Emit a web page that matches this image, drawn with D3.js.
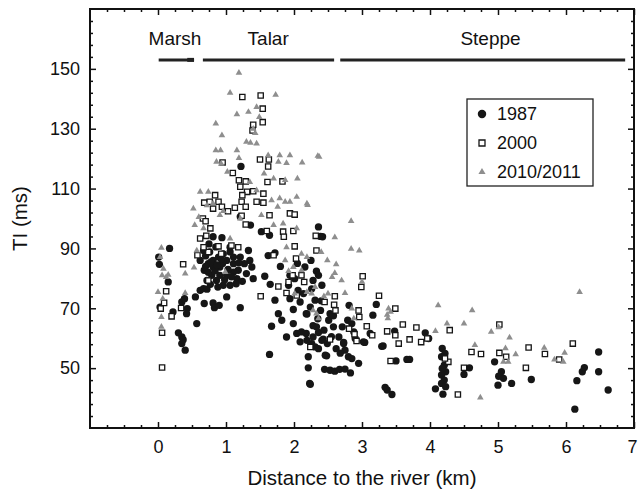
<!DOCTYPE html>
<html>
<head>
<meta charset="utf-8">
<script src="https://cdn.jsdelivr.net/npm/d3@7"></script>
<style>
  body { margin: 0; background: #fff; }
  svg { display: block; font-family: "Liberation Sans", Arial, sans-serif; }
  .tick line { stroke: #111; stroke-width: 1.5; }
</style>
</head>
<body>
<div class="chartContainer"></div>
<script>
// distance to river (km), TI (ms)
const pts1987 = [
  [1.22,117.4],[1.21,100.6],[1.36,97.8],[1.52,95.6],[1.64,94.4],[0.81,93.9],[0.94,93.6],[2.36,97.2],[2.42,93.9],[2.39,94],
  [0.01,87.1],[0.02,84.7],[0.17,90],[0.15,78.8],[0.03,70.4],[0.22,68.8],[0.30,61.8],[0.35,60.4],[0.35,58.2],[0.40,56],[0.37,59.5],
  [0.35,72.1],[0.39,73.2],[0.43,69.9],[0.42,68.2],[0.57,64.9],[0.55,73.8],[0.62,76],[0.68,71.6],[0.81,71.8],[0.83,70.2],[0.90,71],
  [1.01,73.8],[1.21,70.2],[0.67,76.6],[0.72,76.4],
  [0.62,86],[0.68,82.7],[0.74,84.9],[0.81,86],[0.89,87.1],[0.96,88.2],[1.06,88.8],[1.11,84.9],[1.18,82.7],[1.21,87.1],[1.33,89.3],
  [1.35,86],[1.38,83.8],[1.40,79.9],[1.30,81.6],[1.16,79.9],[1.15,78.2],[1.06,77.7],[0.96,77.7],[0.86,79.3],[0.79,81],[0.72,79.3],
  [0.91,81],[1.01,81],[1.11,82.1],[0.81,83.8],[0.91,83.8],[1.01,86],[1.06,90.4],[0.67,89.3],[0.76,88.8],[1.27,84.9],[1.11,87.1],
  [0.88,77.1],[0.75,91.5],[0.85,90.5],[0.70,87.5],[0.78,85.5],[0.95,85],[1.03,83],
  [0.74,82],[0.84,82.5],[0.98,79.5],[1.08,80.5],[0.77,78],[1.24,79],[0.93,86.5],[0.87,84.5],[1.19,85.2],[0.70,84],
  [1.64,54.6],[1.67,64],[1.57,80.7],[1.65,78],[1.72,72.7],[1.77,68.2],[1.82,66],[1.62,87.6],[1.89,60.4],[1.99,64.9],[1.94,73.2],
  [1.99,69.6],[1.92,77.7],[2.04,61.6],[2.09,58.8],[2.11,62.1],[2.18,61.6],[2.21,53.8],[2.21,50.1],[2.23,44.9],[2.19,59.3],[2.26,58.2],
  [2.28,60.4],[2.31,57.1],[2.33,63.8],[2.18,68.2],[2.24,70.4],[2.31,72.7],[2.33,82.4],[2.28,79.3],[1.94,81],[2.01,79.9],[2.06,76],
  [2.14,74.9],[2.09,72.1],[2.16,83.8],[1.80,84],[1.72,88.5],[2.25,86],[2.05,85],
  [2.19,68.1],[2.28,64.2],[2.36,61.9],[2.43,59.7],[2.35,66.5],[2.26,76.5],[2.40,72.5],[2.48,54.1],[2.24,44.6],[2.36,56.5],
  [2.36,81],[2.41,77.7],[2.39,69.3],[2.44,62.7],[2.41,59.3],[2.49,58.2],[2.51,66],[2.53,68.2],[2.58,63.8],[2.46,54.3],[2.66,60.4],
  [2.71,63.8],[2.73,58.2],[2.75,56],[2.80,53.8],[2.85,53.2],[2.95,51.6],[2.45,49.6],[2.53,49.3],[2.60,49],[2.67,49.6],[2.75,49.7],
  [2.83,48.4],[2.81,71],[2.79,66],[2.85,64.9],[2.88,62.1],[3.02,58.8],[3.12,61.6],[3.16,67.7],[3.21,71.3],[3.29,57.3],[2.90,59.9],
  [2.62,56.5],[2.55,60.5],[2.68,55],[2.58,67.5],[2.73,58.6],[3.04,58.6],[3.31,57.4],
  [3.34,43.6],[3.37,42.7],[3.44,41.2],[3.50,52.4],[3.66,52.9],[3.70,52.9],[3.48,62.4],[3.93,61.8],[3.98,59.9],
  [4.18,56.6],[4.22,54.9],[4.17,53.8],[4.21,51],[4.23,48.8],[4.17,47.7],[4.21,46],[4.17,44.9],[4.23,43.8],[4.08,43.1],[4.19,41.3],[4.18,49.9],
  [4.50,47.9],[4.58,50.1],[4.95,52.1],[5.05,48.8],[5.01,47.3],[5.08,46.6],[5.00,44.3],[5.20,44.9],[5.49,46.2],
  [6.16,45.8],[6.24,48.8],[6.27,50.2],[6.48,55.4],[6.48,48.8],[6.13,36.3],[6.62,42.7]
];

const pts2000 = [
  [1.24,140.6],[1.51,141.1],[1.54,136.7],[1.40,131.3],[1.54,132.2],[1.39,129.4],[0.95,118.7],[1.10,115.2],[1.50,119.7],[1.63,119.7],
  [1.62,117.4],[1.19,112.8],[1.29,112.4],[1.61,112.2],[1.83,112.4],[1.21,110.6],[1.31,108.9],[1.40,109.1],[1.24,107.8],[1.55,108.3],
  [0.68,105.3],[0.76,105.6],[0.84,107.8],[0.89,105.6],[0.94,103.9],[0.81,103.3],[1.03,102.4],[1.13,103.6],[1.23,105.6],[1.29,103.9],
  [1.45,105.6],[1.55,105.3],[1.94,101.7],[2.01,101.3],[0.66,100],[0.70,99.1],[1.23,100.9],[1.29,98],[1.64,101.1],[1.60,95.8],
  [1.84,95.6],[1.99,95.8],[1.85,93.9],[0.77,96.7],[0.62,93.3],[0.71,94.2],[2.32,94.2],
  [0.06,50.2],[0.06,61.8],[0.04,69.9],[0.09,71.8],[0.12,75.7],[0.20,67.3],[0.34,70.1],[0.37,84.7],[0.74,79.3],[0.58,87.7],[0.74,88.8],
  [0.67,90.4],[0.93,88.2],[0.89,90.7],[1.08,91],[1.18,90.4],[1.51,74],[1.70,87.7],[1.77,77.3],[1.89,75.1],[1.92,78.8],[1.98,81],
  [2.03,86.6],[2.01,90.7],[2.11,81],[2.15,78.8],[2.04,74.3],[2.24,57.1],[2.33,89.3],
  [3.01,80.7],[2.99,77.1],[3.25,74.2],[3.49,69.9],[3.37,62.3],[3.49,61],[3.54,58.2],[3.60,64.6],[3.80,63.6],[3.70,59.6],[3.87,58.7],
  [3.96,59.9],[3.42,52.4],[4.29,62.7],[4.27,52.1],[4.22,53.2],[4.41,41.2],[4.50,50.1],[4.61,55.4],[4.75,54.7],[5.02,64.6],[5.02,55.1],
  [5.12,53.8],[5.41,50.1],[5.45,56.9],[5.69,54.7],[5.90,52.9],[6.10,58.2],
  [2.45,72.1],[2.60,74],[2.59,71.2],[2.61,69.3],[2.53,59.6],[2.81,63.2],[2.89,61.3],[2.95,69.3],[2.96,67.1],[3.07,64],[3.15,61],[2.92,59.1]
];

const pts2010 = [
  [1.19,148.7],[1.06,142],[1.73,141.3],[1.16,134.8],[1.33,135.6],[1.45,137.2],[1.49,133.9],[1.40,130],[1.43,128.5],[0.85,131.7],
  [0.94,127.8],[1.30,125.6],[1.36,125.3],[1.45,125],[0.85,122.8],[0.92,122.8],[1.16,122.8],[0.86,118.9],[0.93,118.3],[1.19,120.2],
  [1.62,121.1],[1.79,121.1],[1.94,121.1],[2.12,118.7],[2.35,120.9],[1.77,118.9],[1.89,118.5],[1.02,115.6],[1.56,115],[1.70,113.3],
  [1.87,112.8],[2.05,113.3],[1.35,112.2],[0.52,103.3],[0.62,108.9],[0.74,108.9],[0.72,104.4],[0.81,105],[0.54,97.8],[0.67,96.7],
  [0.60,100.5],[0.91,101.1],[0.96,102.5],[1.67,106.1],[1.79,106.7],[1.87,105.6],[1.94,105.6],[2.04,107.2],[2.19,105],[1.76,103.9],
  [1.52,101.1],[1.45,109.4],[1.70,97.8],[1.84,98.3],[2.04,96.7],[1.21,100],[1.06,93.3],[2.37,120.6],[2.84,99.1],[2.60,93.7],[2.20,104.5],
  [0.05,90.2],[0.03,87.1],[0.08,83.2],[0.06,81],[0.12,80.4],[0.0,75.4],[0.15,81.2],[0.05,67.1],[0.05,63.8],[0.07,73.2],[0.40,81.6],
  [0.40,75.1],[0.53,83.6],[0.57,89.3],[0.99,82.1],[1.89,90.4],[1.87,86],[1.92,82.4],[1.99,83.8],[2.11,82.7],[2.19,87.1],[2.11,88.2],
  [2.01,74.9],[2.19,75.4],[2.26,74.9],[2.31,77.1],[2.28,69.3],[2.33,68.2],[2.36,66.6],
  [2.84,89.9],[2.96,89.3],[2.49,86],[2.62,84.7],[2.56,80.4],[2.60,81.8],[2.70,79.3],[2.75,75.1],[2.50,74.9],[2.44,74],[2.85,69.9],
  [2.88,66.6],[3.0,78.8],[3.39,69.9],[3.42,68.8],[3.38,66.6],[3.37,67.8],[4.12,71],[4.62,69.3],[4.08,62.4],[4.25,64.9],[4.50,64.9],
  [4.90,62.1],[5.01,63.6],[5.17,60.2],[4.66,57.7],[5.11,56.6],[5.08,52.1],[5.15,52.1],[5.26,54.6],[5.68,56.8],[5.83,52.9],[5.96,52.1],
  [5.98,55.1],[6.20,75.4],[4.74,40.2],[2.40,88.8]
];

const seriesNames = ["1987", "2000", "2010/2011"];
const xTicks = [0, 1, 2, 3, 4, 5, 6, 7];
const yTicks = [50, 70, 90, 110, 130, 150];

// vegetation zones along the transect
const zoneNames = ["Marsh", "Talar", "Steppe"];
const zoneStart = [0.01, 0.66, 2.68];
const zoneEnd = [0.53, 2.59, 6.87];
const zoneLabelX = [0.25, 1.62, 4.89];
const zoneLineY = 153;
const zoneLabelY = 158;

const w = 638;
const h = 490;
const margin = { top: 9, right: 4, bottom: 62, left: 90 };

const svg = d3
  .select(".chartContainer")
  .append("svg")
  .attr("width", w)
  .attr("height", h);

const xScale = d3
  .scaleLinear()
  .domain([-1, 7])
  .range([margin.left, w - margin.right]);

const yScale = d3
  .scaleLinear()
  .domain([30, 170])
  .range([h - margin.bottom, margin.top]);

const xMinor = d3.range(-0.75, 7, 0.25).filter((v) => Math.abs(v - Math.round(v)) > 0.01);
const yMinor = d3.range(34, 170, 4).filter((v) => (v - 50) % 20 !== 0);

function addAxis(axis, tx, ty, major) {
  const g = svg
    .append("g")
    .attr("transform", "translate(" + tx + "," + ty + ")")
    .call(axis);
  g.select(".domain").remove();
  g.selectAll("text")
    .attr("font-size", major ? 18 : 0)
    .attr("fill", "#111")
    .attr("font-family", "Liberation Sans, Arial, sans-serif");
  return g;
}

const yB = h - margin.bottom;
const xL = margin.left;
const yT = margin.top;
const xR = w - margin.right;

// bottom
const xAxisG = addAxis(d3.axisBottom(xScale).tickValues(xTicks).tickSize(-6).tickPadding(12).tickFormat(d3.format("d")), 0, yB, true);
// last label sits right on the image edge, pull it in a little
xAxisG.selectAll("text").filter((d) => d === 7).attr("dx", -2);
addAxis(d3.axisBottom(xScale).tickValues(xMinor).tickSize(-3).tickFormat(""), 0, yB, false);
// top
addAxis(d3.axisTop(xScale).tickValues(xTicks).tickSize(-6).tickFormat(""), 0, yT, false);
addAxis(d3.axisTop(xScale).tickValues(xMinor).tickSize(-3).tickFormat(""), 0, yT, false);
// left
addAxis(d3.axisLeft(yScale).tickValues(yTicks).tickSize(-6).tickPadding(10).tickFormat(d3.format("d")), xL, 0, true);
addAxis(d3.axisLeft(yScale).tickValues(yMinor).tickSize(-3).tickFormat(""), xL, 0, false);
// right
addAxis(d3.axisRight(yScale).tickValues(yTicks).tickSize(-6).tickFormat(""), xR, 0, false);
addAxis(d3.axisRight(yScale).tickValues(yMinor).tickSize(-3).tickFormat(""), xR, 0, false);

// frame
svg
  .append("rect")
  .attr("x", xL)
  .attr("y", yT)
  .attr("width", xR - xL)
  .attr("height", yB - yT)
  .attr("fill", "none")
  .attr("stroke", "#111")
  .attr("stroke-width", 2);

// zone bars and labels
svg
  .selectAll(".zone")
  .data(zoneNames)
  .enter()
  .append("line")
  .attr("class", "zone")
  .attr("x1", (d, i) => xScale(zoneStart[i]))
  .attr("x2", (d, i) => xScale(zoneEnd[i]))
  .attr("y1", yScale(zoneLineY))
  .attr("y2", yScale(zoneLineY))
  .attr("stroke", "#222")
  .attr("stroke-width", 3);

// small thick end piece on the marsh bar
svg
  .append("line")
  .attr("x1", xScale(zoneEnd[0] - 0.1))
  .attr("x2", xScale(zoneEnd[0]))
  .attr("y1", yScale(zoneLineY))
  .attr("y2", yScale(zoneLineY))
  .attr("stroke", "#222")
  .attr("stroke-width", 4);

svg
  .selectAll(".zoneLabel")
  .data(zoneNames)
  .enter()
  .append("text")
  .attr("class", "zoneLabel")
  .attr("x", (d, i) => xScale(zoneLabelX[i]))
  .attr("y", yScale(zoneLabelY))
  .attr("text-anchor", "middle")
  .attr("font-size", 19)
  .attr("fill", "#111")
  .text((d) => d);

// points
const circleSym = d3.symbol().type(d3.symbolCircle).size(42);
const squareSym = d3.symbol().type(d3.symbolSquare).size(28);
const triSym = d3.symbol().type(d3.symbolTriangle).size(19);

svg
  .append("g")
  .selectAll("path")
  .data(pts1987)
  .enter()
  .append("path")
  .attr("d", circleSym)
  .attr("transform", (d) => "translate(" + xScale(d[0]) + "," + yScale(d[1]) + ")")
  .attr("fill", "#161616");

svg
  .append("g")
  .selectAll("path")
  .data(pts2000)
  .enter()
  .append("path")
  .attr("d", squareSym)
  .attr("transform", (d) => "translate(" + xScale(d[0]) + "," + yScale(d[1]) + ")")
  .attr("fill", "#fff")
  .attr("stroke", "#161616")
  .attr("stroke-width", 1.3);

svg
  .append("g")
  .selectAll("path")
  .data(pts2010)
  .enter()
  .append("path")
  .attr("d", triSym)
  .attr("transform", (d) => "translate(" + xScale(d[0]) + "," + yScale(d[1]) + ")")
  .attr("fill", "#8e8e8e");

// legend
const legend = svg.append("g").attr("transform", "translate(467,99)");
legend
  .append("rect")
  .attr("width", 126)
  .attr("height", 87)
  .attr("fill", "#fff")
  .attr("stroke", "#222")
  .attr("stroke-width", 1.3);

const legendSyms = [
  d3.symbol().type(d3.symbolCircle).size(56)(),
  d3.symbol().type(d3.symbolSquare).size(36)(),
  d3.symbol().type(d3.symbolTriangle).size(22)()
];
const legendRows = legend
  .selectAll(".row")
  .data(seriesNames)
  .enter()
  .append("g")
  .attr("transform", (d, i) => "translate(0," + (15 + i * 29) + ")");

legendRows
  .append("path")
  .attr("d", (d, i) => legendSyms[i])
  .attr("transform", "translate(15,0)")
  .attr("fill", (d, i) => (i === 0 ? "#161616" : i === 1 ? "#fff" : "#8e8e8e"))
  .attr("stroke", (d, i) => (i === 1 ? "#161616" : "none"))
  .attr("stroke-width", 1.3);

legendRows
  .append("text")
  .attr("x", 30)
  .attr("dy", "0.35em")
  .attr("font-size", 18)
  .attr("fill", "#111")
  .text((d) => d);

// axis titles
svg
  .append("text")
  .attr("x", (xL + xR) / 2)
  .attr("y", 485)
  .attr("text-anchor", "middle")
  .attr("font-size", 20.5)
  .attr("fill", "#111")
  .text("Distance to the river (km)");

svg
  .append("text")
  .attr("transform", "translate(27," + (yT + yB) / 2 + ") rotate(-90)")
  .attr("text-anchor", "middle")
  .attr("font-size", 20.5)
  .attr("fill", "#111")
  .text("TI (ms)");
</script>
</body>
</html>
